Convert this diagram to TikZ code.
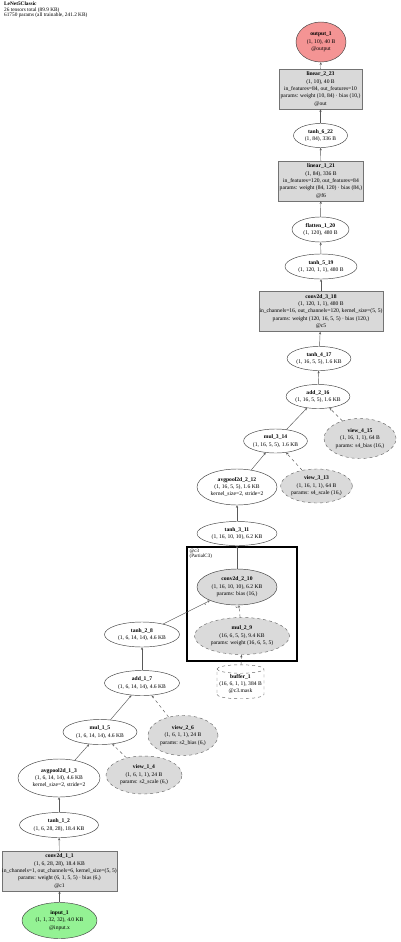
\documentclass[tikz,border=0pt]{standalone}
\usepackage{fontspec}
\setmainfont{Liberation Serif}
\usetikzlibrary{shapes.geometric,arrows.meta}
\definecolor{boxgrey}{HTML}{D9D9D9}
\definecolor{ellgrey}{HTML}{DADADA}
\definecolor{outred}{HTML}{F49494}
\definecolor{ingreen}{HTML}{94F294}
\tikzset{
  lbl/.style={font=\fontsize{5.6}{7.4}\selectfont, align=center, inner sep=0pt, text=black},
  ell/.style={lbl, ellipse, draw=black!75, line width=0.45pt, fill=white},
  gell/.style={lbl, ellipse, draw=black!60, line width=0.45pt, dashed, fill=ellgrey},
  cell/.style={lbl, ellipse, draw=black!75, line width=0.45pt, fill=ellgrey},
  lbox/.style={lbl, rectangle, draw=black!55, line width=0.45pt, fill=boxgrey},
  edge/.style={draw=black!65, line width=0.45pt, -{Stealth[length=2.6pt,width=2.2pt]}},
  dedge/.style={edge, dashed},
  elab/.style={font=\fontsize{3.2}{3.6}\selectfont, inner sep=0pt, text=black},
}
\begin{document}
\begin{tikzpicture}[x=1pt,y=-1pt]
\useasboundingbox[fill=white] (0,0) rectangle (400,942);
% title
\node[anchor=north west, font=\fontsize{5.3}{5.8}\selectfont, align=left, inner sep=0pt] (title) at (4,1.5)
  {\textbf{LeNet5Classic}\\26 tensors total (89.9 KB)\\61750 params (all trainable, 241.2 KB)};
% cluster
\draw[line width=2.4pt] (187,547) rectangle (297,661);
\node[anchor=north west, font=\fontsize{5}{5.8}\selectfont, align=left, inner sep=0pt] (clab) at (189.5,548.5) {@c3\\(PartialC3)};
% nodes
\node[ell, fill=outred, minimum width=50pt, minimum height=40pt] (output_1) at (321,42)
  {\textbf{output\_1}\\(1, 10), 40 B\\@output};
\node[lbox, minimum width=83pt, minimum height=40pt] (linear_2_23) at (320.5,89)
  {\textbf{linear\_2\_23}\\(1, 10), 40 B\\in\_features=84, out\_features=10\\params: weight (10, 84) · bias (10,)\\@out};
\node[ell, minimum width=54pt, minimum height=24pt] (tanh_6_22) at (320.5,135.5)
  {\textbf{tanh\_6\_22}\\(1, 84), 336 B};
\node[lbox, minimum width=85pt, minimum height=40pt] (linear_1_21) at (321,181)
  {\textbf{linear\_1\_21}\\(1, 84), 336 B\\in\_features=120, out\_features=84\\params: weight (84, 120) · bias (84,)\\@f6};
\node[ell, minimum width=57pt, minimum height=25pt] (flatten_1_20) at (320.5,229.5)
  {\textbf{flatten\_1\_20}\\(1, 120), 480 B};
\node[ell, minimum width=72pt, minimum height=25pt] (tanh_5_19) at (321,266.5)
  {\textbf{tanh\_5\_19}\\(1, 120, 1, 1), 480 B};
\node[lbox, minimum width=124pt, minimum height=40pt] (conv2d_3_18) at (321,311.5)
  {\textbf{conv2d\_3\_18}\\(1, 120, 1, 1), 480 B\\in\_channels=16, out\_channels=120, kernel\_size=(5, 5)\\params: weight (120, 16, 5, 5) · bias (120,)\\@c5};
\node[ell, minimum width=62pt, minimum height=24pt] (tanh_4_17) at (319,358.5)
  {\textbf{tanh\_4\_17}\\(1, 16, 5, 5), 1.6 KB};
\node[ell, minimum width=62pt, minimum height=24pt] (add_2_16) at (318,396.5)
  {\textbf{add\_2\_16}\\(1, 16, 5, 5), 1.6 KB};
\node[ell, minimum width=62pt, minimum height=24pt] (mul_3_14) at (275.5,441)
  {\textbf{mul\_3\_14}\\(1, 16, 5, 5), 1.6 KB};
\node[gell, minimum width=72pt, minimum height=40pt] (view_4_15) at (360,438.5)
  {\textbf{view\_4\_15}\\(1, 16, 1, 1), 64 B\\params: s4\_bias (16,)};
\node[ell, minimum width=80pt, minimum height=36pt] (avgpool2d_2_12) at (237,487)
  {\textbf{avgpool2d\_2\_12}\\(1, 16, 5, 5), 1.6 KB\\kernel\_size=2, stride=2};
\node[gell, minimum width=64pt, minimum height=34pt] (view_3_13) at (316.5,486)
  {\textbf{view\_3\_13}\\(1, 16, 1, 1), 64 B\\params: s4\_scale (16,)};
\node[ell, minimum width=80pt, minimum height=24pt] (tanh_3_11) at (237,533.5)
  {\textbf{tanh\_3\_11}\\(1, 16, 10, 10), 6.2 KB};
\node[cell, minimum width=80pt, minimum height=36pt] (conv2d_2_10) at (237,587)
  {\textbf{conv2d\_2\_10}\\(1, 16, 10, 10), 6.2 KB\\params: bias (16,)};
\node[gell, minimum width=95pt, minimum height=37pt] (mul_2_9) at (242,636)
  {\textbf{mul\_2\_9}\\(16, 6, 5, 5), 9.4 KB\\params: weight (16, 6, 5, 5)};
\node[lbl, cylinder, shape border rotate=90, aspect=0.2, draw=black!60, dashed, line width=0.45pt, fill=white,
  minimum width=47pt, minimum height=34pt] (buffer_1) at (240.5,684)
  {\textbf{buffer\_1}\\(16, 6, 1, 1), 384 B\\@c3.mask};
\node[ell, minimum width=75pt, minimum height=25pt] (tanh_2_8) at (142,634.5)
  {\textbf{tanh\_2\_8}\\(1, 6, 14, 14), 4.6 KB};
\node[ell, minimum width=75pt, minimum height=25pt] (add_1_7) at (142,683)
  {\textbf{add\_1\_7}\\(1, 6, 14, 14), 4.6 KB};
\node[ell, minimum width=74pt, minimum height=25pt] (mul_1_5) at (100,732)
  {\textbf{mul\_1\_5}\\(1, 6, 14, 14), 4.6 KB};
\node[gell, minimum width=70pt, minimum height=40pt] (view_2_6) at (183,735.5)
  {\textbf{view\_2\_6}\\(1, 6, 1, 1), 24 B\\params: s2\_bias (6,)};
\node[ell, minimum width=82pt, minimum height=38pt] (avgpool2d_1_3) at (59,778)
  {\textbf{avgpool2d\_1\_3}\\(1, 6, 14, 14), 4.6 KB\\kernel\_size=2, stride=2};
\node[gell, minimum width=76pt, minimum height=38pt] (view_1_4) at (144,775)
  {\textbf{view\_1\_4}\\(1, 6, 1, 1), 24 B\\params: s2\_scale (6,)};
\node[ell, minimum width=79pt, minimum height=25pt] (tanh_1_2) at (59,825)
  {\textbf{tanh\_1\_2}\\(1, 6, 28, 28), 18.4 KB};
\node[lbox, minimum width=115pt, minimum height=40pt] (conv2d_1_1) at (59.5,871)
  {\textbf{conv2d\_1\_1}\\(1, 6, 28, 28), 18.4 KB\\in\_channels=1, out\_channels=6, kernel\_size=(5, 5)\\params: weight (6, 1, 5, 5) · bias (6,)\\@c1};
\node[ell, fill=ingreen, minimum width=75pt, minimum height=36pt] (input_1) at (59.5,920.5)
  {\textbf{input\_1}\\(1, 1, 32, 32), 4.0 KB\\@input.x};
% edges
\draw[edge] (input_1) -- (conv2d_1_1);
\draw[edge] (conv2d_1_1) -- (tanh_1_2);
\draw[edge] (tanh_1_2) -- (avgpool2d_1_3);
\draw[edge] (avgpool2d_1_3) -- (mul_1_5);
\draw[dedge] (view_1_4) -- (mul_1_5);
\draw[edge] (mul_1_5) -- (add_1_7);
\draw[dedge] (view_2_6) -- (add_1_7);
\draw[edge] (add_1_7) -- (tanh_2_8);
\draw[edge] (tanh_2_8) -- node[elab, pos=0.9, below=0.6pt] (lab_x) {x} (conv2d_2_10);
\draw[dedge] (buffer_1) -- (mul_2_9);
\draw[dedge] (mul_2_9) -- node[elab, pos=0.75, left=1pt] (lab_w) {w} (conv2d_2_10);
\draw[edge] (conv2d_2_10) -- (tanh_3_11);
\draw[edge] (tanh_3_11) -- (avgpool2d_2_12);
\draw[edge] (avgpool2d_2_12) -- (mul_3_14);
\draw[dedge] (view_3_13) -- (mul_3_14);
\draw[edge] (mul_3_14) -- (add_2_16);
\draw[dedge] (view_4_15) -- (add_2_16);
\draw[edge] (add_2_16) -- (tanh_4_17);
\draw[edge] (tanh_4_17) -- (conv2d_3_18);
\draw[edge] (conv2d_3_18) -- (tanh_5_19);
\draw[edge] (tanh_5_19) -- (flatten_1_20);
\draw[edge] (flatten_1_20) -- (linear_1_21);
\draw[edge] (linear_1_21) -- (tanh_6_22);
\draw[edge] (tanh_6_22) -- (linear_2_23);
\draw[edge] (linear_2_23) -- (output_1);
\end{tikzpicture}
\end{document}
